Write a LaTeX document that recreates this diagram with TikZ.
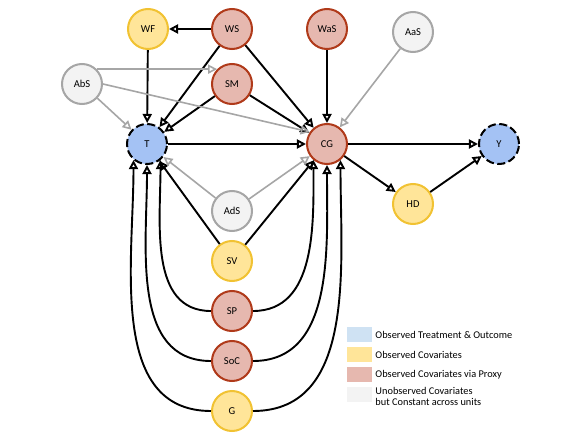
\documentclass[tikz,border=0pt]{standalone}
\usepackage{fontspec}
\setmainfont{Carlito}
\usepackage{tikz}
\usetikzlibrary{positioning,arrows.meta}
\definecolor{obsblue}{HTML}{A4C2F4}
\definecolor{legblue}{HTML}{CFE2F3}
\definecolor{covfill}{HTML}{FFE599}
\definecolor{covline}{HTML}{F1C232}
\definecolor{proxyfill}{HTML}{E6B8AF}
\definecolor{proxyline}{HTML}{B03A1A}
\definecolor{unobsfill}{HTML}{F3F3F3}
\definecolor{unobsline}{HTML}{A6A6A6}

\begin{document}
\begin{tikzpicture}[
    node distance=1.75cm, on grid,
    var/.style={circle, draw, line width=2pt, minimum size=1.4cm, inner sep=0pt, font=\fontsize{10.5}{12}\selectfont},
    treat/.style={var, fill=obsblue, dash pattern=on 8pt off 3.5pt},
    cov/.style={var, fill=covfill, draw=covline},
    proxy/.style={var, fill=proxyfill, draw=proxyline},
    unobs/.style={var, fill=unobsfill, draw=unobsline},
    arrow/.style={-{Triangle[open, length=9pt, width=9pt]}, line width=1.9pt},
    garrow/.style={arrow, draw=unobsline, line width=1.6pt},
    legbox/.style={rectangle, minimum width=0.875cm, minimum height=0.525cm, inner sep=0pt},
    legtext/.style={anchor=west, inner sep=0pt, align=left, font=\fontsize{10.3}{11}\selectfont}
]
    \useasboundingbox (-5.145,5.04) rectangle (15.085,-10.36);

    \node[treat] (T) at (0,0) {T};
    \node[proxy, right=6.3cm of T] (CG) {CG};
    \node[treat, right=6.02cm of CG] (Y) {Y};
    \node[cov, below right=2.1cm and 3.01cm of CG] (HD) {HD};
    \node[proxy, above right=2.1cm and 2.975cm of T] (SM) {SM};
    \node[proxy, above=1.925cm of SM] (WS) {WS};
    \node[cov, left=2.94cm of WS] (WF) {WF};
    \node[proxy, above=4.025cm of CG] (WaS) {WaS};
    \node[unobs, above right=3.92cm and 3.01cm of CG] (AaS) {AaS};
    \node[unobs, left=5.25cm of SM] (AbS) {AbS};
    \node[unobs, below right=2.345cm and 2.975cm of T] (AdS) {AdS};
    \node[cov, below=of AdS] (SV) {SV};
    \node[proxy, below=of SV] (SP) {SP};
    \node[proxy, below=of SP] (SoC) {SoC};
    \node[cov, below=of SoC] (G) {G};

    % legend
    \node[legbox, fill=legblue] (lb1) at (7.44,-6.67) {};
    \node[legbox, fill=covfill, below=0.7cm of lb1] (lb2) {};
    \node[legbox, fill=proxyfill, below=0.7cm of lb2] (lb3) {};
    \node[legbox, fill=unobsfill, below=0.7cm of lb3] (lb4) {};
    \node[legtext] (lt1) at ([xshift=3pt]lb1.east) {Observed Treatment \& Outcome};
    \node[legtext] (lt2) at ([xshift=3pt]lb2.east) {Observed Covariates};
    \node[legtext] (lt3) at ([xshift=3pt]lb3.east) {Observed Covariates via Proxy};
    \node[legtext] (lt4) at ([xshift=3pt, yshift=-2pt]lb4.east) {Unobserved Covariates\\but Constant across units};

    \draw[arrow] (WS) -- (WF);
    \draw[arrow] (WF) -- (T);
    \draw[arrow] (WS) -- (T);
    \draw[arrow] (WS) -- (CG);
    \draw[arrow] (SM) -- (T);
    \draw[arrow] (SM) -- (CG);
    \draw[arrow] (WaS) -- (CG);
    \draw[arrow] (T) -- (CG);
    \draw[arrow] (CG) -- (Y);
    \draw[arrow] (CG) -- (HD);
    \draw[arrow] (HD) -- (Y);
    \draw[arrow] (SV) -- (T);
    \draw[arrow] (SV) -- (CG);

    \draw[arrow] (SP) to[out=180, in=-90] (T.-50);
    \draw[arrow] (SoC) to[out=180, in=-90] (T.-90);
    \draw[arrow] (G) to[out=180, in=-90] (T.-130);
    \draw[arrow] (SP) to[out=0, in=-90] (CG.-130);
    \draw[arrow] (SoC) to[out=0, in=-90] (CG.-90);
    \draw[arrow] (G) to[out=0, in=-90] (CG.-50);

    \draw[garrow] (AaS) -- (CG);
    \draw[garrow] (AbS.45) -- (SM.135);
    \draw[garrow] (AbS) -- (T);
    \draw[garrow] (AbS.east) -- (CG.145);
    \draw[garrow] (AdS) -- (T);
    \draw[garrow] (AdS) -- (CG);
\end{tikzpicture}
\end{document}
